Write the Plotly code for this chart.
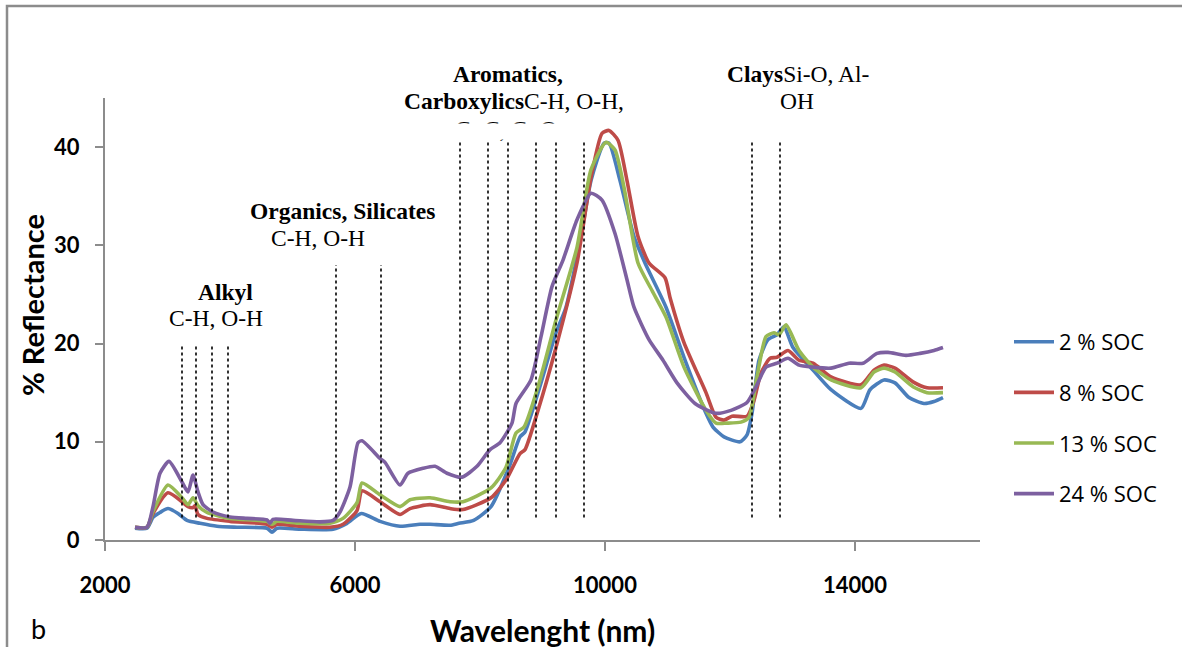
import plotly.graph_objects as go

# ---------------- data ----------------
series_names = ["2 % SOC", "8 % SOC", "13 % SOC", "24 % SOC"]
series_colors = ["#4A7EBB", "#BE4B48", "#98B954", "#7D60A0"]

wl_2 = [2480, 2672, 2768, 2880, 3008, 3168, 3312, 3520, 3792, 4112, 4592, 4672, 4752, 5120, 5648, 5872,
        6100, 6400, 6720, 7040, 7200, 7520, 7664, 7898, 8176, 8464, 8640, 8720, 8928, 9216, 9376, 9616,
        9776, 9984, 10064, 10240, 10464, 10640, 10976, 11264, 11616, 11728, 11904, 12160, 12272, 12352,
        12464, 12608, 12752, 12864, 13008, 13328, 13616, 14096, 14240, 14464, 14640, 14864, 15104, 15264, 15408]
refl_2 = [1.2, 1.2, 2.3, 2.8, 3.2, 2.7, 2.0, 1.7, 1.4, 1.3, 1.2, 0.8, 1.2, 1.1, 1.1, 1.7,
          2.7, 1.9, 1.4, 1.6, 1.6, 1.5, 1.7, 2.0, 3.4, 7.4, 10.5, 11.0, 15.0, 21.1, 23.7, 30.9,
          36.6, 40.4, 40.4, 36.6, 30.9, 28.2, 23.7, 18.6, 12.9, 11.5, 10.5, 10.0, 10.7, 12.9,
          18.3, 20.4, 20.9, 21.7, 19.6, 17.3, 15.3, 13.4, 15.3, 16.3, 16.0, 14.5, 13.9, 14.1, 14.5]

wl_8 = [2480, 2672, 2768, 3008, 3232, 3328, 3408, 3440, 3488, 3632, 4000, 4592, 4672, 4752, 5120, 5600,
        5808, 6032, 6112, 6400, 6720, 6880, 7200, 7520, 7728, 8176, 8416, 8640, 8720, 8928, 9216, 9552,
        9776, 9952, 10064, 10208, 10352, 10528, 10704, 10960, 11040, 11264, 11616, 11776, 11904, 12032,
        12272, 12384, 12496, 12640, 12752, 12928, 13104, 13328, 13616, 14096, 14304, 14464, 14640, 14928,
        15152, 15408]
refl_8 = [1.3, 1.3, 2.7, 4.8, 3.9, 3.4, 3.3, 3.5, 2.6, 2.2, 1.9, 1.6, 1.3, 1.6, 1.4, 1.3,
          1.6, 3.0, 5.0, 3.9, 2.6, 3.2, 3.6, 3.2, 3.1, 4.3, 6.1, 8.8, 9.2, 13.2, 19.6, 28.2,
          36.9, 41.4, 41.7, 40.7, 36.6, 30.9, 28.2, 26.7, 24.7, 20.1, 15.0, 12.5, 12.2, 12.6,
          12.6, 14.2, 17.0, 18.5, 18.6, 19.3, 18.3, 18.0, 16.6, 15.8, 17.3, 17.8, 17.5, 16.1,
          15.5, 15.5]

wl_13 = [2480, 2672, 2768, 3008, 3232, 3328, 3408, 3488, 3632, 4000, 4592, 4672, 4752, 5120, 5600, 5808,
         6032, 6112, 6400, 6720, 6880, 7200, 7520, 7728, 8176, 8416, 8576, 8704, 8928, 9216, 9552, 9776,
         10016, 10160, 10304, 10528, 10752, 10976, 11264, 11616, 11776, 11952, 12176, 12304, 12432, 12576,
         12704, 12784, 12896, 13104, 13328, 13616, 14096, 14304, 14464, 14640, 14928, 15152, 15408]
refl_13 = [1.3, 1.3, 2.9, 5.6, 4.3, 3.6, 4.3, 3.5, 2.8, 2.2, 1.9, 1.6, 1.9, 1.7, 1.7, 2.2,
           3.8, 5.8, 4.6, 3.4, 4.1, 4.3, 3.9, 3.9, 5.3, 7.4, 10.9, 11.5, 15.6, 22.4, 29.8, 37.7,
           40.5, 39.7, 35.9, 28.2, 25.4, 22.7, 17.6, 13.2, 11.9, 11.9, 12.0, 12.5, 16.6, 20.7,
           21.1, 20.9, 21.9, 19.3, 17.6, 16.3, 15.5, 17.1, 17.5, 17.1, 15.6, 15.0, 15.0]

wl_24 = [2480, 2672, 2768, 2880, 3024, 3232, 3328, 3408, 3488, 3568, 3728, 4000, 4272, 4592, 4640, 4688,
         5008, 5440, 5650, 5760, 5920, 6048, 6112, 6400, 6480, 6720, 6848, 7088, 7280, 7472, 7712, 7952,
         8160, 8320, 8512, 8576, 8816, 8976, 9152, 9328, 9552, 9776, 9952, 10160, 10352, 10464, 10704,
         10928, 11152, 11440, 11776, 12016, 12272, 12416, 12576, 12752, 12928, 13104, 13328, 13616, 13904,
         14128, 14352, 14528, 14816, 15040, 15264, 15408]
refl_24 = [1.3, 1.3, 3.4, 6.8, 8.0, 5.9, 4.9, 6.6, 4.9, 3.6, 2.85, 2.35, 2.2, 2.05, 1.7, 2.1,
           2.0, 1.85, 2.0, 2.85, 5.4, 9.9, 10.1, 8.3, 7.9, 5.6, 6.8, 7.3, 7.5, 6.8, 6.4, 7.5,
           9.2, 9.9, 11.9, 13.9, 16.3, 20.7, 25.8, 28.5, 32.6, 35.3, 34.6, 31.2, 26.5, 23.7, 20.4,
           18.3, 16.0, 13.9, 12.9, 13.2, 14.0, 15.6, 17.6, 18.0, 18.5, 17.8, 17.6, 17.5, 18.0,
           18.0, 19.0, 19.1, 18.8, 19.0, 19.3, 19.6]

# absorption band markers (dotted lines): wavelength, bottom, top (% reflectance)
band_wl = [3232, 3456, 3712, 3968, 5696, 6416, 7680, 8128, 8448, 8896, 9216, 9664, 12352, 12800]
band_bottom = [2.3] * 14
band_top = [19.8, 19.8, 19.8, 19.8, 28.0, 28.0, 40.7, 40.7, 40.7, 40.7, 40.7, 40.7, 40.7, 40.7]

x_ticks = [2000, 6000, 10000, 14000]
y_ticks = [0, 10, 20, 30, 40]

# ---------------- figure ----------------
L, R, T, B = 105, 980, 98, 540  # plot area in pixels
def px(xp):
    return (xp - L) / (R - L)
def py(yp):
    return (B - yp) / (B - T)

fig = go.Figure()
all_wl = [wl_2, wl_8, wl_13, wl_24]
all_refl = [refl_2, refl_8, refl_13, refl_24]
for i, (name, col) in enumerate(zip(series_names, series_colors)):
    fig.add_trace(go.Scatter(
        x=all_wl[i], y=all_refl[i], name=name, mode="lines",
        line=dict(color=col, width=3.6, shape="spline", smoothing=0.6),
        legendgroup=name,
    ))

for xv, yb, yt in zip(band_wl, band_bottom, band_top):
    fig.add_trace(go.Scatter(
        x=[xv, xv], y=[yb, yt], mode="lines", showlegend=False, hoverinfo="skip",
        line=dict(color="black", width=1.6, dash="dot"),
    ))

serif = "Liberation Serif"
ann_font = dict(family=serif, size=23.5, color="black")
annotations = [
    dict(x=px(225), y=py(292), text="<b>Alkyl</b>"),
    dict(x=px(216), y=py(318), text="C-H, O-H"),
    dict(x=px(342), y=py(211), text="<b>Organics, Silicates</b>"),
    dict(x=px(318), y=py(238), text="C-H, O-H"),
    dict(x=px(508), y=py(74), text="<b>Aromatics,</b>"),
    dict(x=px(514), y=py(101), text="<b>Carboxylics</b>C-H, O-H,"),
    # third line of the label, clipped by its text box in the original
    dict(x=px(506), y=py(129), text="C=C, C=O"),
    dict(x=px(798), y=py(74), text="<b>Clays</b>Si-O, Al-"),
    dict(x=px(797), y=py(101), text="OH"),
]
for a in annotations:
    a.update(xref="paper", yref="paper", showarrow=False, font=ann_font, xanchor="center", yanchor="middle")
# white box clipping the third line (as in the original text box)
annotations.append(dict(xref="paper", yref="paper", x=px(506), y=py(123), xanchor="center", yanchor="top",
                        text=" ", showarrow=False, width=170, height=15, bgcolor="white",
                        font=dict(size=6), borderpad=0))

sans = "Lato"
annotations += [
    dict(xref="paper", yref="paper", x=px(32), y=py(305), text="<b>% Reflectance</b>",
         textangle=-90, showarrow=False, font=dict(family=sans, size=29, color="black"),
         xanchor="center", yanchor="middle"),
    dict(xref="paper", yref="paper", x=px(542), y=py(630), text="<b>Wavelenght (nm)</b>",
         showarrow=False, font=dict(family=sans, size=30, color="black"),
         xanchor="center", yanchor="middle"),
    dict(xref="paper", yref="paper", x=px(38), y=py(628), text="b",
         showarrow=False, font=dict(family=sans, size=27, color="black"),
         xanchor="center", yanchor="middle"),
]

fig.update_layout(
    width=1182, height=647,
    margin=dict(l=L, r=1182 - R, t=T, b=647 - B, pad=0),
    paper_bgcolor="white", plot_bgcolor="white",
    annotations=annotations,
    showlegend=True,
    legend=dict(x=px(1009), y=py(418), xanchor="left", yanchor="middle",
                font=dict(family="Open Sans", size=22, color="black"),
                tracegroupgap=19, bgcolor="rgba(0,0,0,0)", itemwidth=40),
    shapes=[dict(type="rect", xref="paper", yref="paper",
                 x0=px(7), x1=px(1200), y0=py(670), y1=py(6),
                 line=dict(color="#8C8C8C", width=2.5), fillcolor="rgba(0,0,0,0)", layer="below")],
)

fig.update_xaxes(
    range=[2000, 16000], tickvals=x_ticks, ticktext=[str(v) for v in x_ticks],
    showgrid=False, zeroline=False, showline=True, linecolor="#8C8C8C", linewidth=2,
    ticks="outside", ticklen=9, tickcolor="#8C8C8C", tickwidth=2,
    tickfont=dict(family=sans, size=22, color="black", weight="bold"),
    ticklabelstandoff=16,
)
fig.update_yaxes(
    range=[0, 45], tickvals=y_ticks, ticktext=[str(v) for v in y_ticks],
    showgrid=False, zeroline=False, showline=True, linecolor="#8C8C8C", linewidth=2,
    ticks="outside", ticklen=8, tickcolor="#8C8C8C", tickwidth=2,
    tickfont=dict(family=sans, size=22, color="black", weight="bold"),
    ticklabelstandoff=11,
)

fig.write_html("out.html")
